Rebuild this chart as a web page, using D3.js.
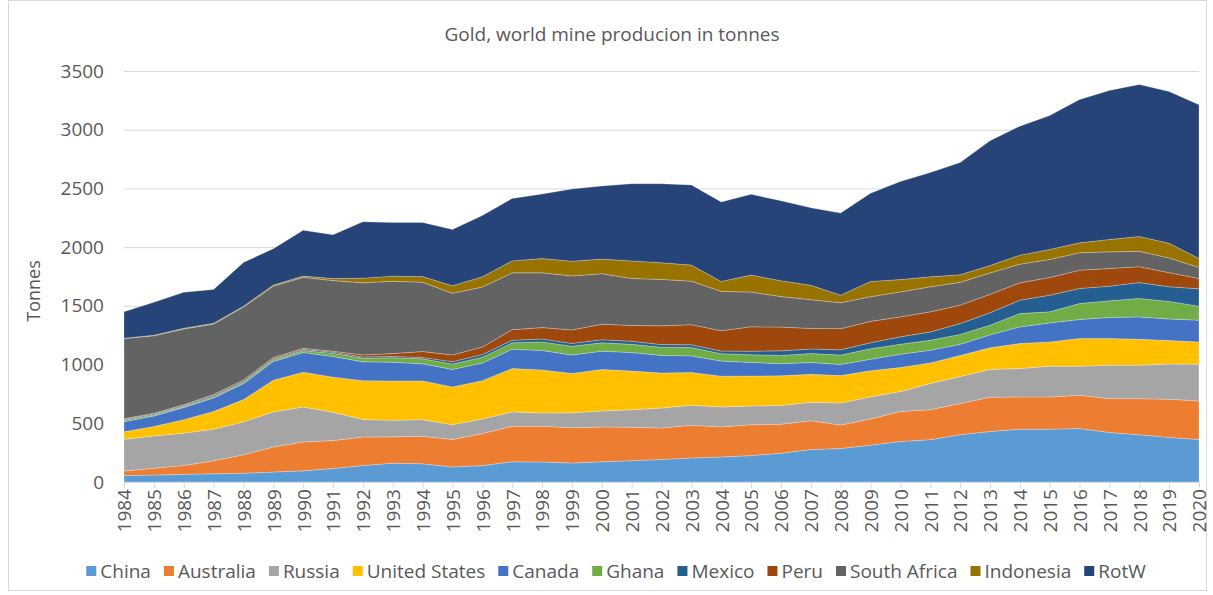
<!DOCTYPE html>
<html>
<head>
<meta charset="utf-8">
<script src="https://cdn.jsdelivr.net/npm/d3@7"></script>
<style>
  body { margin: 0; background: #ffffff; }
  svg text { font-family: "Open Sans", "Noto Sans", sans-serif; fill: #595959; }
</style>
</head>
<body>
<svg id="chart" width="1213" height="595"></svg>
<script>
// Gold mine production by country, tonnes per year
const years = [1984,1985,1986,1987,1988,1989,1990,1991,1992,1993,1994,1995,1996,1997,1998,1999,2000,2001,2002,2003,2004,2005,2006,2007,2008,2009,2010,2011,2012,2013,2014,2015,2016,2017,2018,2019,2020];

const china       = [55,59,65,70,75,85,95,115,140,160,155,128,140,172,170,162,172,182,192,205,213,225,245,276,285,314,345,360,403,430,450,450,455,422,402,380,362];
const australia   = [39,58,75,110,157,213,246,238,243,225,234,234,272,302,304,301,296,285,268,278,256,262,247,246,200,222,255,256,265,292,274,274,284,288,308,325,328];
const russia      = [270,275,276,270,280,299,298,240,150,140,142,125,125,123,114,126,137,148,170,170,170,160,160,157,188,189,170,222,230,237,242,262,247,284,284,300,313];
const unitedStates= [64,80,115,150,190,269,296,300,330,335,330,322,326,369,366,335,353,330,298,280,262,256,252,238,233,223,205,176,179,184,213,207,236,228,222,200,190];
const canada      = [86,90,103,116,135,160,167,176,160,160,145,150,150,165,166,157,156,157,150,141,129,115,104,100,95,97,113,108,95,110,142,162,162,179,190,183,185];
const ghana       = [12,9,9,11,12,15,17,26,31,38,43,46,50,54,73,75,72,70,70,71,63,66,70,77,80,90,85,85,85,82,114,94,136,142,157,150,119];
const mexico      = [7,8,8,10,10,9,10,10,10,11,12,20,22,22,25,24,26,26,22,23,22,30,39,39,45,51,63,71,92,106,113,142,128,125,135,125,148];
const peru        = [5,6,7,8,10,10,9,9,18,25,50,57,65,90,97,115,132,135,160,172,173,208,202,175,180,182,170,171,157,157,148,150,156,150,136,120,88];
const southAfrica = [683,660,645,600,621,607,605,601,614,616,590,525,510,484,466,460,430,400,395,370,335,295,260,245,220,210,213,213,194,182,159,154,148,142,130,125,94];
const indonesia   = [4,5,6,6,7,10,11,18,40,43,48,64,88,102,122,125,124,150,142,137,85,145,135,122,65,130,105,85,65,63,77,85,85,105,127,125,76];
const restOfWorld = [225,280,306,289,373,310,390,372,480,457,461,480,522,532,549,615,622,657,673,683,677,688,681,660,699,750,836,888,955,1062,1098,1140,1220,1270,1294,1292,1310];

const seriesNames  = ["China","Australia","Russia","United States","Canada","Ghana","Mexico","Peru","South Africa","Indonesia","RotW"];
const seriesValues = [china,australia,russia,unitedStates,canada,ghana,mexico,peru,southAfrica,indonesia,restOfWorld];
const seriesColors = ["#5B9BD5","#ED7D31","#A5A5A5","#FFC000","#4472C4","#70AD47","#255E91","#9E480E","#636363","#997300","#264478"];
const yTicks = [0,500,1000,1500,2000,2500,3000,3500];

const titleText = "Gold, world mine producion in tonnes";
const yAxisTitle = "Tonnes";

// ---- layout ----
const W = 1213, H = 595;
const plot = { left: 124, right: 1199, top: 71, bottom: 482 };

const svg = d3.select("#chart");

// outer chart border
svg.append("rect")
  .attr("x", 8.5).attr("y", 0.5)
  .attr("width", W - 15).attr("height", H - 5)
  .attr("fill", "none").attr("stroke", "#d9d9d9");

const x = d3.scalePoint().domain(years).range([plot.left, plot.right]);
const y = d3.scaleLinear().domain([0, 3500]).range([plot.bottom, plot.top]);

// rows for the stack layout
const table = years.map((yr, i) => {
  const row = { year: yr };
  seriesNames.forEach((name, j) => { row[name] = seriesValues[j][i]; });
  return row;
});
const stacked = d3.stack().keys(seriesNames)(table);
const color = d3.scaleOrdinal().domain(seriesNames).range(seriesColors);

// gridlines + y labels
const yAxis = svg.append("g")
  .attr("transform", `translate(${plot.left},0)`)
  .call(d3.axisLeft(y).tickValues(yTicks)
    .tickSize(-(plot.right - plot.left))
    .tickPadding(20)
    .tickFormat(d3.format("d")));
yAxis.select(".domain").remove();
yAxis.selectAll(".tick line").attr("stroke", "#d9d9d9").attr("stroke-width", 1);
yAxis.selectAll(".tick text").attr("font-size", 19).style("fill", "#595959");

// stacked areas
const area = d3.area()
  .x(d => x(d.data.year))
  .y0(d => y(d[0]))
  .y1(d => y(d[1]));

svg.append("g").selectAll("path")
  .data(stacked)
  .join("path")
  .attr("d", area)
  .attr("fill", d => color(d.key))
  .attr("stroke", "rgba(255,255,255,0.35)")
  .attr("stroke-width", 0.7)
  .attr("stroke-linejoin", "round");

// category axis
const xAxis = svg.append("g")
  .attr("transform", `translate(0,${plot.bottom})`)
  .call(d3.axisBottom(x).tickSize(6).tickPadding(4));
xAxis.select(".domain").attr("stroke", "#d9d9d9");
xAxis.selectAll(".tick line").attr("stroke", "#d9d9d9");
xAxis.selectAll(".tick text")
  .attr("font-size", 19)
  .style("fill", "#595959")
  .attr("text-anchor", "end")
  .attr("transform", "rotate(-90)")
  .attr("x", -7)
  .attr("y", 0)
  .attr("dy", "0.36em");

// title
svg.append("text")
  .attr("x", 612).attr("y", 41)
  .attr("text-anchor", "middle")
  .attr("font-size", 19)
  .text(titleText);

// y axis title
svg.append("text")
  .attr("transform", "translate(40,291) rotate(-90)")
  .attr("text-anchor", "middle")
  .attr("font-size", 18)
  .text(yAxisTitle);

// legend, centred under the plot
const legend = svg.append("g").attr("transform", "translate(0,571)");
const items = legend.selectAll("g").data(seriesNames).join("g");
items.append("rect")
  .attr("width", 10).attr("height", 10)
  .attr("y", -5)
  .attr("fill", d => color(d));
items.append("text")
  .attr("x", 14).attr("dy", "0.35em")
  .attr("font-size", 19)
  .text(d => d);

const gap = 13;
const widths = [];
items.each(function () {
  widths.push(14 + this.querySelector("text").getComputedTextLength());
});
const total = d3.sum(widths) + gap * (widths.length - 1);
let start = 616 - total / 2;
items.attr("transform", (d, i) => {
  const tx = start;
  start += widths[i] + gap;
  return `translate(${tx},0)`;
});
</script>
</body>
</html>
